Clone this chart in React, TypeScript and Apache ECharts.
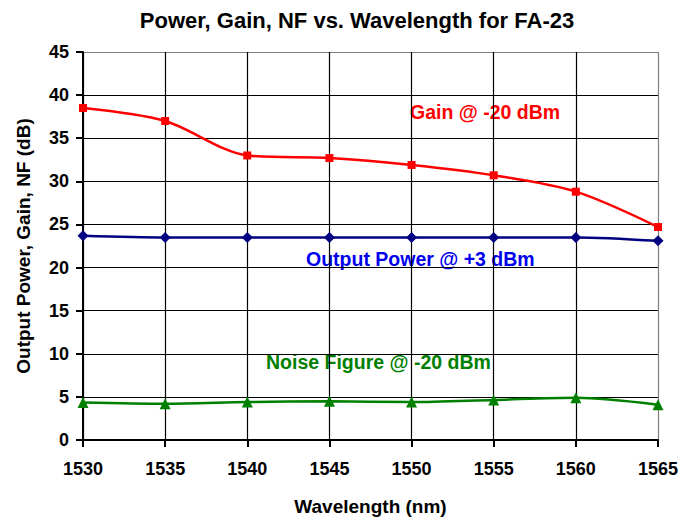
import React, { useEffect, useRef } from "react";
import * as echarts from "echarts";

const wavelengths = [1530, 1535, 1540, 1545, 1550, 1555, 1560, 1565];
const gain = [38.5, 37.0, 33.0, 32.7, 31.9, 30.7, 28.8, 24.7];
const outputPower = [23.7, 23.5, 23.5, 23.5, 23.5, 23.5, 23.5, 23.1];
const noiseFigure = [4.35, 4.2, 4.4, 4.5, 4.4, 4.65, 4.9, 4.1];

const FONT = "'Liberation Sans', Arial, sans-serif";

const pairs = (vals: number[]) => wavelengths.map((w, i) => [w, vals[i]]);

export default function App() {
  const ref = useRef<HTMLDivElement>(null);
  useEffect(() => {
    if (!ref.current) return;
    const chart = echarts.init(ref.current, null, { renderer: "svg" });
    const ySplit = Array.from({ length: 10 }, (_, i) => (i === 9 ? "#808080" : "#000"));
    const xSplit = Array.from({ length: 8 }, (_, i) => (i === 7 ? "#808080" : "#000"));
    chart.setOption({
      animation: false,
      backgroundColor: "#fff",
      textStyle: { fontFamily: FONT },
      title: {
        text: "Power, Gain, NF vs. Wavelength for FA-23",
        left: 352,
        top: 4,
        textAlign: "center",
        textStyle: { fontFamily: FONT, fontSize: 22, fontWeight: "bold", color: "#000" },
      },
      grid: { left: 83, right: 39, top: 52, bottom: 81, containLabel: false },
      xAxis: {
        type: "value",
        min: 1530,
        max: 1565,
        interval: 5,
        name: "Wavelength (nm)",
        nameLocation: "middle",
        nameGap: 57,
        nameTextStyle: { fontFamily: FONT, fontSize: 19, fontWeight: "bold", color: "#000" },
        axisLine: { show: true, onZero: false, lineStyle: { color: "#000", width: 2 } },
        axisTick: { show: true, length: 7, lineStyle: { color: "#000", width: 2 } },
        axisLabel: {
          margin: 20,
          fontFamily: FONT,
          fontSize: 18,
          fontWeight: "bold",
          color: "#000",
          formatter: (v: number) => String(v),
        },
        splitLine: { show: true, lineStyle: { color: xSplit, width: 1.2 } },
      },
      yAxis: {
        type: "value",
        min: 0,
        max: 45,
        interval: 5,
        name: "Output Power, Gain, NF (dB)",
        nameLocation: "middle",
        nameGap: 50,
        nameTextStyle: { fontFamily: FONT, fontSize: 19, fontWeight: "bold", color: "#000" },
        axisLine: { show: true, lineStyle: { color: "#000", width: 2 } },
        axisTick: { show: true, length: 7, lineStyle: { color: "#000", width: 2 } },
        axisLabel: { margin: 14, fontFamily: FONT, fontSize: 18, fontWeight: "bold", color: "#000" },
        splitLine: { show: true, lineStyle: { color: ySplit, width: 1.2 } },
      },
      series: [
        {
          name: "Gain @ -20 dBm",
          type: "line",
          smooth: 0.3,
          data: pairs(gain),
          symbol: "rect",
          symbolSize: 8,
          lineStyle: { color: "#ff0000", width: 2.5 },
          itemStyle: { color: "#ff0000" },
        },
        {
          name: "Output Power @ +3 dBm",
          type: "line",
          smooth: 0.3,
          data: pairs(outputPower),
          symbol: "diamond",
          symbolSize: 11,
          lineStyle: { color: "#000080", width: 2.5 },
          itemStyle: { color: "#000080" },
        },
        {
          name: "Noise Figure @ -20 dBm",
          type: "line",
          smooth: 0.3,
          data: pairs(noiseFigure),
          symbol: "triangle",
          symbolSize: 11,
          lineStyle: { color: "#008000", width: 2.5 },
          itemStyle: { color: "#008000" },
        },
      ],
      graphic: [
        {
          type: "text",
          x: 410,
          y: 112,
          style: {
            text: "Gain @ -20 dBm",
            fill: "#ff0000",
            font: `bold 19.5px ${FONT}`,
            verticalAlign: "middle",
          },
        },
        {
          type: "text",
          x: 306,
          y: 259,
          style: {
            text: "Output Power @ +3 dBm",
            fill: "#0000ee",
            font: `bold 19.5px ${FONT}`,
            verticalAlign: "middle",
          },
        },
        {
          type: "text",
          x: 266,
          y: 362,
          style: {
            text: "Noise Figure @ -20 dBm",
            fill: "#008000",
            font: `bold 19.5px ${FONT}`,
            verticalAlign: "middle",
          },
        },
      ],
    });
    return () => chart.dispose();
  }, []);
  return (
    <div
      ref={ref}
      style={{ position: "fixed", left: 0, top: 0, width: 697, height: 521 }}
    />
  );
}
